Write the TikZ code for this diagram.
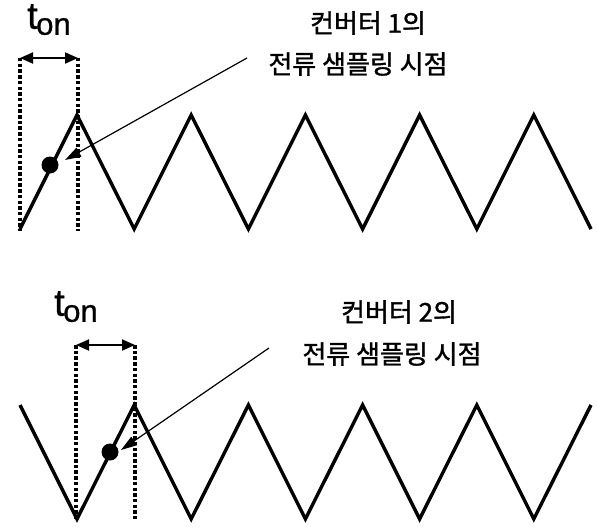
\documentclass[tikz,border=0pt]{standalone}
\usepackage{fontspec}
\setmainfont{Liberation Sans}[FakeBold=0.8]
\newfontfamily\kr{Noto Sans CJK KR}[FakeBold=1.3]
\usetikzlibrary{arrows.meta}
\tikzset{
  wave/.style={line width=3.4pt, line join=miter},
  guide/.style={line width=3.2pt, dash pattern=on 3.5pt off 2.2pt},
  span/.style={line width=1.8pt, {Triangle[length=13pt,width=11pt]}-{Triangle[length=13pt,width=11pt]}},
  pointer/.style={line width=1.2pt, -{Triangle[length=16pt,width=10pt]}},
  sample/.style={circle, fill=black, minimum width=15pt, minimum height=17pt, inner sep=0pt},
  label/.style={font=\kr\fontsize{26}{26}\selectfont, inner sep=0pt},
  tonlabel/.style={inner sep=0pt, anchor=north west}
}
\newcommand{\tonText}{{\fontsize{38}{38}\selectfont t}\kern-1.5pt\raisebox{-6pt}{\fontsize{31}{31}\selectfont on}}
\begin{document}
\begin{tikzpicture}[x=1pt,y=-1pt]
\useasboundingbox (0,0) rectangle (597,527);
% ---------- top waveform ----------
\foreach \i in {0,...,5} {
  \coordinate (tv\i) at ({20+114.2*\i},229);
}
\foreach \i in {0,...,4} {
  \coordinate (tp\i) at ({77+114.2*\i},115);
}
\draw[wave] (tv0) -- (tp0) -- (tv1) -- (tp1) -- (tv2) -- (tp2) -- (tv3) -- (tp3) -- (tv4) -- (tp4) -- (tv5);
\coordinate (ta) at (20,58);
\coordinate (tb) at (78,58);
\coordinate (ta2) at (20,231);
\coordinate (tb2) at (78,231);
\draw[guide] (ta) -- (ta2);
\draw[guide] (tb) -- (tb2);
\draw[span] (ta) -- (tb);
\node[tonlabel] (ton1) at (27,4) {\tonText};
\node[sample] (d1) at (50,165) {};
\coordinate (p1s) at (247,58);
\coordinate (p1e) at (65,160);
\draw[pointer] (p1s) -- (p1e);
\node[label] (c1a) at (368,23) {컨버터 1의};
\node[label] (c1b) at (358,64) {전류 샘플링 시점};
% ---------- bottom waveform ----------
\foreach \i in {0,...,5} {
  \coordinate (bp\i) at ({20+114.2*\i},405);
}
\foreach \i in {0,...,4} {
  \coordinate (bv\i) at ({77+114.2*\i},519);
}
\draw[wave] (bp0) -- (bv0) -- (bp1) -- (bv1) -- (bp2) -- (bv2) -- (bp3) -- (bv3) -- (bp4) -- (bv4) -- (bp5);
\coordinate (ba) at (76,345);
\coordinate (bb) at (135,345);
\coordinate (ba2) at (76,519);
\coordinate (bb2) at (135,519);
\draw[guide] (ba) -- (ba2);
\draw[guide] (bb) -- (bb2);
\draw[span] (ba) -- (bb);
\node[tonlabel] (ton2) at (54,291) {\tonText};
\node[sample] (d2) at (110,452) {};
\coordinate (p2s) at (269,348);
\coordinate (p2e) at (121,450);
\draw[pointer] (p2s) -- (p2e);
\node[label] (c2a) at (399,312) {컨버터 2의};
\node[label] (c2b) at (392,354) {전류 샘플링 시점};
\end{tikzpicture}
\end{document}
